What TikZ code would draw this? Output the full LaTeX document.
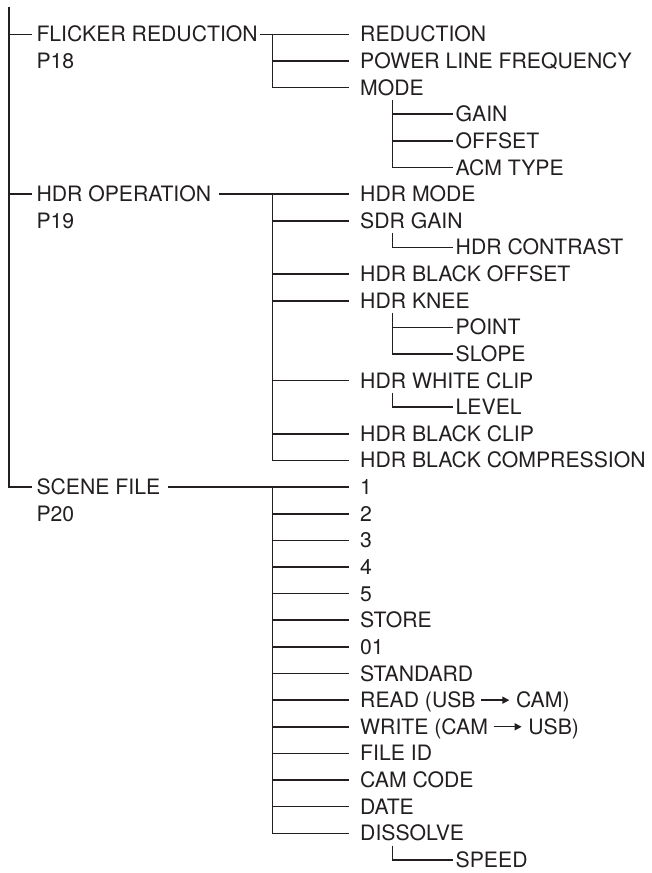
\documentclass[tikz,border=0pt]{standalone}
\usepackage{fontspec}
\setmainfont{TeX Gyre Heros}
\usetikzlibrary{arrows.meta}
\definecolor{ink}{HTML}{231F20}
\newcommand\rowy[1]{34.4+26.63*#1}
\newcommand\rarr{\hspace{5pt}\tikz[x=1pt,y=1pt,baseline=0pt]{\path (0,0) (28,0);\draw[draw=ink,line width=1.4pt,-{Triangle[length=7pt,width=7pt]}] (0,7.5) -- (28,7.5);}\hspace{6pt}}
\tikzset{
  conn/.style={draw=ink,line width=1.6pt},
  lbl/.style={anchor=west,inner sep=0pt,text height=15pt,text depth=0pt,text=ink,font=\fontsize{21.2}{25}\selectfont}
}
\begin{document}
\begin{tikzpicture}[x=1pt,y=-1pt]
\useasboundingbox (0,0) rectangle (651,873);
% level 1
\node[lbl] (fr) at (36.3,{\rowy{0}}) {FLICKER REDUCTION};
\node[lbl] (p18) at (36.3,{\rowy{1}}) {P18};
\node[lbl] (hdr) at (36.3,{\rowy{6}}) {HDR OPERATION};
\node[lbl] (p19) at (36.3,{\rowy{7}}) {P19};
\node[lbl] (scene) at (36.3,{\rowy{17}}) {SCENE FILE};
\node[lbl] (p20) at (36.3,{\rowy{18}}) {P20};
% level 2
\node[lbl] (red) at (360,{\rowy{0}}) {REDUCTION};
\node[lbl] (plf) at (360,{\rowy{1}}) {POWER LINE FREQUENCY};
\node[lbl] (mode) at (360,{\rowy{2}}) {MODE};
\node[lbl] (hdrmode) at (360,{\rowy{6}}) {HDR MODE};
\node[lbl] (sdr) at (360,{\rowy{7}}) {SDR GAIN};
\node[lbl] (hbo) at (360,{\rowy{9}}) {HDR BLACK OFFSET};
\node[lbl] (knee) at (360,{\rowy{10}}) {HDR KNEE};
\node[lbl] (hwc) at (360,{\rowy{13}}) {HDR WHITE CLIP};
\node[lbl] (hbc) at (360,{\rowy{15}}) {HDR BLACK CLIP};
\node[lbl] (hbcomp) at (360,{\rowy{16}}) {HDR BLACK COMPRESSION};
\node[lbl] (s1) at (360,{\rowy{17}}) {1};
\node[lbl] (s2) at (360,{\rowy{18}}) {2};
\node[lbl] (s3) at (360,{\rowy{19}}) {3};
\node[lbl] (s4) at (360,{\rowy{20}}) {4};
\node[lbl] (s5) at (360,{\rowy{21}}) {5};
\node[lbl] (store) at (360,{\rowy{22}}) {STORE};
\node[lbl] (s01) at (360,{\rowy{23}}) {01};
\node[lbl] (std) at (360,{\rowy{24}}) {STANDARD};
\node[lbl] (read) at (360,{\rowy{25}}) {READ (USB\rarr CAM)};
\node[lbl] (write) at (360,{\rowy{26}}) {WRITE (CAM\rarr USB)};
\node[lbl] (fid) at (360,{\rowy{27}}) {FILE ID};
\node[lbl] (cam) at (360,{\rowy{28}}) {CAM CODE};
\node[lbl] (date) at (360,{\rowy{29}}) {DATE};
\node[lbl] (diss) at (360,{\rowy{30}}) {DISSOLVE};
% level 3
\node[lbl] (gain) at (455.5,{\rowy{3}}) {GAIN};
\node[lbl] (offset) at (455.5,{\rowy{4}}) {OFFSET};
\node[lbl] (acm) at (455.5,{\rowy{5}}) {ACM TYPE};
\node[lbl] (contrast) at (455.5,{\rowy{8}}) {HDR CONTRAST};
\node[lbl] (point) at (455.5,{\rowy{11}}) {POINT};
\node[lbl] (slope) at (455.5,{\rowy{12}}) {SLOPE};
\node[lbl] (level) at (455.5,{\rowy{14}}) {LEVEL};
\node[lbl] (speed) at (455.5,{\rowy{31}}) {SPEED};
% coordinates
\coordinate (top) at (9,6.7);
\coordinate (v2) at (272.5,0);
\coordinate (v3) at (392.5,0);
\coordinate (kmode) at ([yshift=-4.5pt]mode.south);
\coordinate (ksdr) at ([yshift=-4.5pt]sdr.south);
\coordinate (kknee) at ([yshift=-4.5pt]knee.south);
\coordinate (khwc) at ([yshift=-4.5pt]hwc.south);
\coordinate (kdiss) at ([yshift=-4.5pt]diss.south);
% root connectors
\draw[conn] (top) |- ([xshift=-4.6pt]scene.west);
\draw[conn] (top |- fr.west) -- ([xshift=-4.6pt]fr.west);
\draw[conn] (top |- hdr.west) -- ([xshift=-4.6pt]hdr.west);
% flicker reduction
\draw[conn] ([xshift=2.5pt]fr.east) -- ([xshift=-10.7pt]red.west);
\draw[conn] (v2 |- red.west) |- ([xshift=-10.7pt]mode.west);
\draw[conn] (v2 |- plf.west) -- ([xshift=-10.7pt]plf.west);
\draw[conn] (v3 |- kmode) |- ([xshift=-3pt]acm.west);
\draw[conn] (v3 |- gain.west) -- ([xshift=-3pt]gain.west);
\draw[conn] (v3 |- offset.west) -- ([xshift=-3pt]offset.west);
% hdr operation
\draw[conn] ([xshift=8pt]hdr.east) -- ([xshift=-10.7pt]hdrmode.west);
\draw[conn] (v2 |- hdrmode.west) |- ([xshift=-10.7pt]hbcomp.west);
\foreach \n in {sdr,hbo,knee,hwc,hbc}
  \draw[conn] (v2 |- \n.west) -- ([xshift=-10.7pt]\n.west);
\draw[conn] (v3 |- ksdr) |- ([xshift=-3pt]contrast.west);
\draw[conn] (v3 |- kknee) |- ([xshift=-3pt]slope.west);
\draw[conn] (v3 |- point.west) -- ([xshift=-3pt]point.west);
\draw[conn] (v3 |- khwc) |- ([xshift=-3pt]level.west);
% scene file
\draw[conn] ([xshift=8pt]scene.east) -- ([xshift=-10.7pt]s1.west);
\draw[conn] (v2 |- s1.west) |- ([xshift=-10.7pt]diss.west);
\foreach \n in {s2,s3,s4,s5,store,s01,std,read,write,fid,cam,date}
  \draw[conn] (v2 |- \n.west) -- ([xshift=-10.7pt]\n.west);
\draw[conn] (v3 |- kdiss) |- ([xshift=-3pt]speed.west);
\end{tikzpicture}
\end{document}
